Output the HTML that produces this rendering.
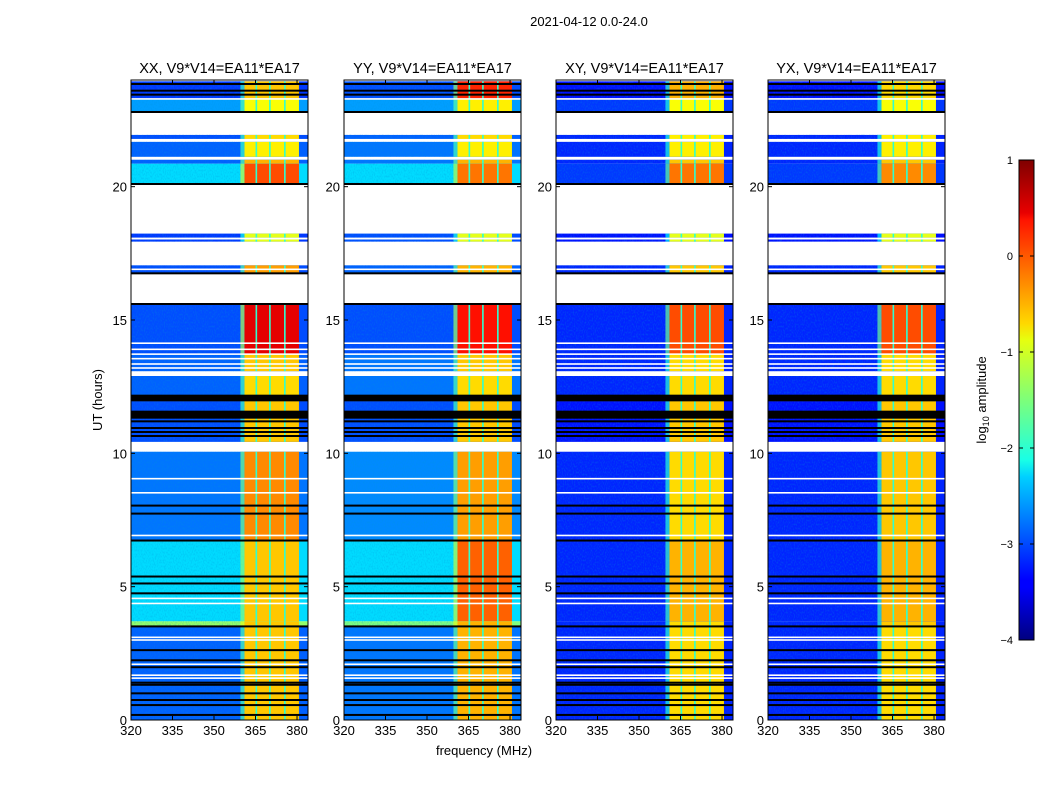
<!DOCTYPE html>
<html><head><meta charset="utf-8">
<style>
body{margin:0;background:#fff;}
svg text{font-family:"Liberation Sans",sans-serif;fill:#000;}
</style></head>
<body>
<svg id="fig" width="1050" height="800" xmlns="http://www.w3.org/2000/svg">
<defs>
<linearGradient id="jet" x1="0" y1="1" x2="0" y2="0">
<stop offset="0" stop-color="#00007f"/><stop offset="0.11" stop-color="#0000ff"/><stop offset="0.125" stop-color="#0000ff"/>
<stop offset="0.34" stop-color="#00d0ff"/><stop offset="0.375" stop-color="#19ffe6"/><stop offset="0.5" stop-color="#7dff7a"/>
<stop offset="0.625" stop-color="#e6ff0f"/><stop offset="0.66" stop-color="#ffd800"/><stop offset="0.875" stop-color="#ff1400"/>
<stop offset="0.89" stop-color="#e80000"/><stop offset="1" stop-color="#7f0000"/>
</linearGradient>
<filter id="grain" x="0" y="0" width="100%" height="100%">
<feTurbulence type="fractalNoise" baseFrequency="0.9 0.5" numOctaves="1" seed="3"/>
<feColorMatrix type="matrix" values="0 0 0 0 0  0 0 0 0 0.3  0 0 0 0 0.7  0 0 0 1.4 -0.6"/>
</filter>
</defs>
<text x="589" y="26" font-size="13" text-anchor="middle">2021-04-12 0.0-24.0</text>
<text x="484" y="755" font-size="13" text-anchor="middle">frequency (MHz)</text>
<text x="0" y="0" font-size="13" text-anchor="middle" transform="translate(102,400) rotate(-90)">UT (hours)</text>
<g id="panels"></g>
<g id="cbar">
<rect x="1019" y="160" width="15" height="480" fill="url(#jet)" stroke="#000" stroke-width="1"/>
</g>
<text x="0" y="0" font-size="13" text-anchor="middle" transform="translate(986,400) rotate(-90)">log<tspan font-size="9" dy="3">10</tspan><tspan dy="-3"> amplitude</tspan></text>
</svg>
<script>
// ---- data ----
const panelTitles = ["XX, V9*V14=EA11*EA17","YY, V9*V14=EA11*EA17","XY, V9*V14=EA11*EA17","YX, V9*V14=EA11*EA17"];
const xTicks = [320,335,350,365,380];
const yTicks = [0,5,10,15,20];
const cbarTicks = [1,0,-1,-2,-3,-4];
// time segments [startHour, endHour]
const segStart = [23.3,22.8,21.76,21.12,20.86,20.1,18.09,17.94,16.75,13.72,13.08,11.96,10.43,6.73,3.7,3.5,0];
const segEnd   = [23.95,23.3,21.94,21.68,21.01,20.86,18.24,18.02,17.05,15.59,13.72,12.9,11.96,10.06,6.73,3.7,3.5];
// log10 amplitude of low band per panel
const lowXX = [-3.1,-2.6,-3.0,-2.9,-2.9,-2.3,-3.1,-3.1,-3.0,-3.0,-2.9,-2.9,-3.0,-2.8,-2.3,-1.4,-2.9];
const lowYY = [-3.0,-2.6,-2.9,-2.8,-2.8,-2.3,-3.0,-3.0,-2.9,-3.0,-2.8,-2.8,-3.0,-2.7,-2.3,-1.5,-2.8];
const lowXY = [-3.3,-3.1,-3.2,-3.2,-3.2,-3.1,-3.3,-3.3,-3.2,-3.2,-3.2,-3.2,-3.3,-3.2,-3.2,-3.2,-3.2];
const lowYX = [-3.3,-3.1,-3.2,-3.2,-3.2,-3.1,-3.3,-3.3,-3.2,-3.2,-3.2,-3.2,-3.3,-3.2,-3.2,-3.2,-3.2];
// log10 amplitude of bright band per panel
const highXX = [-0.6,-0.9,-0.7,-0.8,-0.5,0.0,-1.0,-1.0,-0.4,0.5,-0.6,-0.7,-0.6,-0.3,-0.6,-0.6,-0.6];
const highYY = [0.2,-0.8,-0.7,-0.8,-0.5,-0.2,-1.0,-1.0,-0.5,0.3,-0.6,-0.7,-0.6,-0.4,-0.1,-0.5,-0.5];
const highXY = [-0.5,-0.9,-0.8,-0.8,-0.6,-0.2,-1.0,-1.0,-0.6,0.0,-0.7,-0.7,-0.6,-0.7,-0.5,-0.7,-0.7];
const highYX = [-0.7,-0.9,-0.8,-0.8,-0.6,-0.3,-1.0,-1.0,-0.6,0.0,-0.7,-0.7,-0.6,-0.6,-0.5,-0.6,-0.7];
const lowAll = [lowXX,lowYY,lowXY,lowYX];
const highAll = [highXX,highYY,highXY,highYX];
// black (flagged) lines, hours
const blackLines = [22.8,20.1,16.75,15.6,11.2,10.95,10.8,10.65,8.04,7.74,6.73,5.38,5.12,4.75,3.51,2.62,2.24,1.98,1.4,1.32,1.0,0.75,0.56,0.19,23.85,23.6,23.45];
// black blocks [start,end] hours
const blackStart = [11.95,11.3];
const blackEnd   = [12.2,11.6];
// thin white lines, hours
const whiteLines = [23.29,21.76,16.9,13.72,13.55,13.35,13.2,14.13,13.9,9.05,8.52,6.92,4.56,4.37,3.1,3.0,2.09,1.68,1.57,18.05];
// frequency band edges / dividers (MHz)
const bandLo = 361, bandHi = 380.7;
const dividers = [365.3,370.2,375.6];

// ---- scales ----
const panelX = [131,344,556,768], PW = 177, PT = 80, PB = 720;
const fx = f => (f-320)*2.767;
const hy = h => PB - h*(640/24);
function jet(v){
  const t = Math.max(0,Math.min(1,(v+4)/5));
  const r = Math.max(0,Math.min(1,1.5-Math.abs(4*t-3)));
  const g = Math.max(0,Math.min(1,1.5-Math.abs(4*t-2)));
  const b = Math.max(0,Math.min(1,1.5-Math.abs(4*t-1)));
  return `rgb(${Math.round(r*255)},${Math.round(g*255)},${Math.round(b*255)})`;
}
const NS="http://www.w3.org/2000/svg";
function mk(tag,attrs,parent){const e=document.createElementNS(NS,tag);for(const k in attrs)e.setAttribute(k,attrs[k]);parent.appendChild(e);return e;}

const root = document.getElementById('panels');
const names=['xx','yy','xy','yx'];
panelTitles.forEach((title,p)=>{
  const x0 = panelX[p];
  const g = mk('g',{},root);
  
  
  const clipId='clip'+p;
  const cp=mk('clipPath',{id:clipId},g); mk('rect',{x:x0,y:PT,width:PW,height:PB-PT},cp);
  const dg = mk('g',{'clip-path':`url(#${clipId})`},g);
  mk('rect',{x:x0,y:PT,width:PW,height:PB-PT,fill:'#fff'},dg);
  segStart.forEach((s,i)=>{
    const e=segEnd[i], y=hy(e), h=hy(s)-hy(e);
    const lo=mk('rect',{x:x0,y:y,width:PW,height:h,fill:jet(lowAll[p][i])},dg);
    
    
    mk('rect',{x:x0,y:y,width:fx(bandLo),height:h,filter:'url(#grain)',opacity:0.55},dg);
    const hi=mk('rect',{x:x0+fx(bandLo),y:y,width:fx(bandHi)-fx(bandLo),height:h,fill:jet(highAll[p][i])},dg);
    
    
    mk('rect',{x:x0+fx(bandLo)-4,y:y,width:4,height:h,fill:jet((lowAll[p][i]+highAll[p][i])/2),opacity:0.7},dg);
    dividers.forEach(d=>{
      mk('rect',{x:x0+fx(d)-0.8,y:y,width:1.6,height:h,fill:jet(-1.9)},dg);
    });
  });
  whiteLines.forEach(h=>mk('rect',{x:x0,y:hy(h)-0.8,width:PW,height:1.6,fill:'#fff'},dg));
  blackLines.forEach(h=>mk('rect',{x:x0,y:hy(h)-1,width:PW,height:2,fill:'#000'},dg));
  blackStart.forEach((s,i)=>mk('rect',{x:x0,y:hy(blackEnd[i]),width:PW,height:hy(s)-hy(blackEnd[i]),fill:'#000'},dg));
  mk('rect',{x:x0,y:PT,width:PW,height:PB-PT,fill:'none',stroke:'#000','stroke-width':1},g);
  const t=mk('text',{x:x0+PW/2,y:73,'font-size':14.5,'text-anchor':'middle'},g); t.textContent=title;
  
  
  xTicks.forEach(v=>{
    const x=x0+fx(v);
    mk('line',{x1:x,x2:x,y1:PB,y2:PB-4,stroke:'#000'},g);
    mk('line',{x1:x,x2:x,y1:PT,y2:PT+4,stroke:'#000'},g);
    const tt=mk('text',{x:x,y:PB+15,'font-size':13,'text-anchor':'middle'},g); tt.textContent=v;
    
    
  });
  yTicks.forEach(v=>{
    const y=hy(v);
    mk('line',{x1:x0,x2:x0+4,y1:y,y2:y,stroke:'#000'},g);
    mk('line',{x1:x0+PW,x2:x0+PW-4,y1:y,y2:y,stroke:'#000'},g);
    const tt=mk('text',{x:x0-4,y:y+5,'font-size':13,'text-anchor':'end'},g); tt.textContent=v;
    
    
  });
});
const cb=document.getElementById('cbar');
cbarTicks.forEach(v=>{
  const y=160+(1-v)*96;
  mk('line',{x1:1019,x2:1023,y1:y,y2:y,stroke:'#000'},cb);
  mk('line',{x1:1034,x2:1030,y1:y,y2:y,stroke:'#000'},cb);
  const tt=mk('text',{x:1013,y:y+4,'font-size':11,'text-anchor':'end'},cb); tt.textContent=(v<0?'\u2212'+(-v):v);
  
  
});
</script>
</body></html>
